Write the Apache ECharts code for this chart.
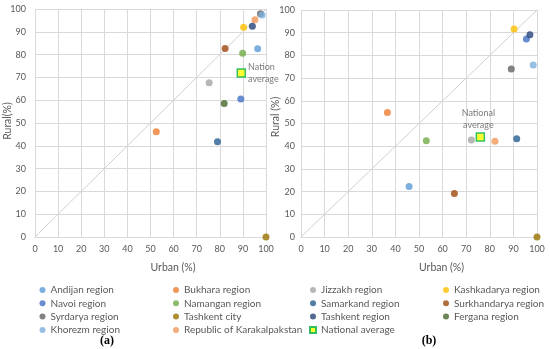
<!DOCTYPE html>
<html><head><meta charset="utf-8">
<script src="https://cdn.jsdelivr.net/npm/echarts@6/dist/echarts.min.js"></script>
<style>html,body{margin:0;padding:0;background:#fff}#c{width:550px;height:349px}</style>
</head><body><div id="c"></div>
<script>
const regions = ['Andijan region','Bukhara region','Jizzakh region','Kashkadarya region','Navoi region','Namangan region','Samarkand region','Surkhandarya region','Syrdarya region','Tashkent city','Tashkent region','Fergana region','Khorezm region','Republic of Karakalpakstan','National average'];
const colors = ['#5B9BD5','#ED7D31','#A5A5A5','#FFC000','#4472C4','#70AD47','#255E91','#9E480E','#636363','#997300','#264478','#43682B','#7CAFDD','#F1975A','#FFFF00'];
const urbanA = [96.4,52.5,75.4,90.3,89.1,89.9,79.0,82.3,97.6,100,94.1,81.9,98.3,95.2,89.3];
const ruralA = [82.6,46.2,67.7,92.0,60.5,80.6,41.8,82.7,97.9,0,92.4,58.5,97.4,95.3,71.9];
const urbanB = [45.8,36.6,72.2,90.3,95.5,53.1,91.4,65.0,89.1,100,97.0,null,98.4,82.2,76.0];
const ruralB = [22.3,54.8,42.7,91.6,87.2,42.4,43.3,19.2,74.0,0,89.1,null,75.8,42.2,44.0];
const diagonal = [[0,0],[100,100]];
const axisTicks = [0,10,20,30,40,50,60,70,80,90,100];
const legendColumns = [[0,4,8,12],[1,5,9,13],[2,6,10,14],[3,7,11]];

const txt = '#595959', font = 'Lato', gridC = '#d9d9d9';
function xAxis(gi){return {type:'value',gridIndex:gi,min:axisTicks[0],max:axisTicks[axisTicks.length-1],interval:axisTicks[1]-axisTicks[0],
  axisLine:{show:true,lineStyle:{color:gridC}},axisTick:{show:false},
  axisLabel:{color:txt,fontFamily:font,fontSize:9,margin:8},splitLine:{show:true,lineStyle:{color:gridC}}};}
function yAxis(gi,m){return {type:'value',gridIndex:gi,min:axisTicks[0],max:axisTicks[axisTicks.length-1],interval:axisTicks[1]-axisTicks[0],
  axisLine:{show:false},axisTick:{show:false},
  axisLabel:{color:txt,fontFamily:font,fontSize:9,margin:m},splitLine:{show:true,lineStyle:{color:gridC}}};}

const series = [];
[0,1].forEach(gi=>{
  series.push({type:'line',xAxisIndex:gi,yAxisIndex:gi,data:diagonal,showSymbol:false,silent:true,
    lineStyle:{color:'#d0d0d0',width:1},z:1});
});
[0,1].forEach(gi=>{
  const U = gi===0?urbanA:urbanB, R = gi===0?ruralA:ruralB;
  regions.forEach((name,i)=>{
    const isNat = i===regions.length-1;
    const s = {type:'scatter',name:name,xAxisIndex:gi,yAxisIndex:gi,
      data: U[i]==null?[]:[[U[i],R[i]]],
      symbol: isNat?'rect':'circle', symbolSize: isNat?8:7,
      itemStyle: isNat?{color:colors[i],borderColor:'#00B050',borderWidth:1.5}:{color:colors[i]},
      z: isNat?5:3};
    if(isNat){
      s.label = gi===0 ?
        {show:true,position:'right',distance:2,formatter:'National\naverage',color:txt,fontFamily:font,fontSize:9,lineHeight:11.5,width:32,overflow:'truncate',ellipsis:''} :
        {show:true,position:'top',distance:2,offset:[-2,0],formatter:'National\naverage',color:txt,fontFamily:font,fontSize:9,lineHeight:11.5,align:'center'};
    }
    series.push(s);
  });
});

const legendLefts = [34.5,168,304,438];
const legends = legendColumns.map((col,ci)=>({
  orient:'vertical',left:legendLefts[ci],top:278.5,itemWidth:6,itemHeight:6,itemGap:0.3,
  textStyle:{color:txt,fontFamily:font,fontSize:10,lineHeight:13},
  data: col.map(i=>({name:regions[i],icon: i===regions.length-1?'rect':'circle'}))
}));

const option = {
  animation:false,
  grid:[{left:35,right:284,top:9,bottom:112},{left:301,right:13,top:10,bottom:112}],
  xAxis:[xAxis(0),xAxis(1)],
  yAxis:[yAxis(0,9),yAxis(1,6)],
  legend:legends,
  series:series,
  graphic:[
    {type:'text',left:150.5,top:262,style:{text:'Urban (%)',fill:txt,font:'10.5px Lato',textAlign:'center'}},
    {type:'text',left:419,top:262,style:{text:'Urban (%)',fill:txt,font:'10.5px Lato',textAlign:'center'}},
    {type:'text',x:8,y:121,rotation:Math.PI/2,style:{text:'Rural(%)',fill:txt,font:'10.5px Lato',align:'center',verticalAlign:'middle'}},
    {type:'text',x:276,y:117,rotation:Math.PI/2,style:{text:'Rural (%)',fill:txt,font:'10.5px Lato',align:'center',verticalAlign:'middle'}},
    {type:'text',x:107,y:341,style:{text:'(a)',fill:'#000',font:'bold 12px "Liberation Serif"',align:'center',verticalAlign:'middle'}},
    {type:'text',x:429,y:341,style:{text:'(b)',fill:'#000',font:'bold 12px "Liberation Serif"',align:'center',verticalAlign:'middle'}}
  ]
};
const chart = echarts.init(document.getElementById('c'),null,{renderer:'canvas'});
chart.setOption(option);
</script></body></html>
